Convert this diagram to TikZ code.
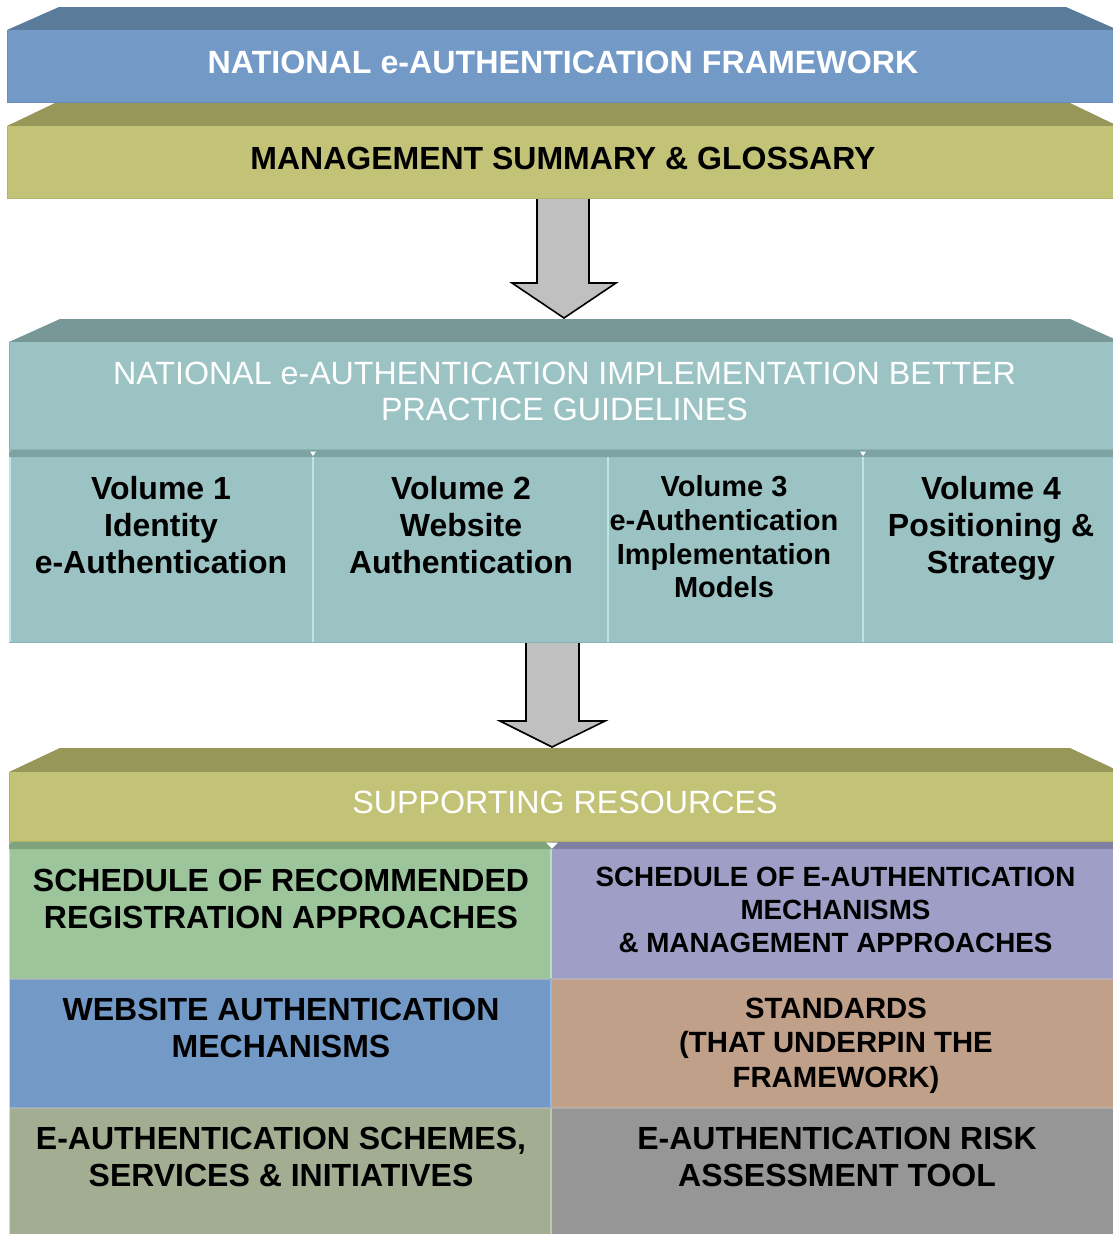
\documentclass[tikz,border=0pt]{standalone}
\usepackage{fontspec}
\setmainfont{Liberation Sans}
\usetikzlibrary{calc}
\definecolor{bluetop}{HTML}{5B7B9B}
\definecolor{bluefront}{HTML}{7399C6}
\definecolor{blueedge}{HTML}{6A8EB9}
\definecolor{olivetop}{HTML}{97975A}
\definecolor{olivefront}{HTML}{C2C376}
\definecolor{oliveedge}{HTML}{B3B46A}
\definecolor{tealtop}{HTML}{789898}
\definecolor{tealfront}{HTML}{9CC3C4}
\definecolor{tealstrip}{HTML}{7EA3A3}
\definecolor{tealsep}{HTML}{BCE6E6}
\definecolor{tealedge}{HTML}{8DB3B4}
\definecolor{greencell}{HTML}{9CC59B}
\definecolor{greenstrip}{HTML}{7EA37D}
\definecolor{greenedge}{HTML}{B9E0B6}
\definecolor{purplecell}{HTML}{9E9EC6}
\definecolor{purplestrip}{HTML}{7F7FA1}
\definecolor{bluecell}{HTML}{7399C6}
\definecolor{bluecelledge}{HTML}{8DB8E8}
\definecolor{tancell}{HTML}{C1A08A}
\definecolor{sagecell}{HTML}{A3AD92}
\definecolor{sageedge}{HTML}{BFC8AE}
\definecolor{graycell}{HTML}{969696}
\definecolor{arrowfill}{HTML}{C0C0C0}
\tikzset{
  bigbold/.style={inner sep=0pt, align=center, font=\bfseries\fontsize{32}{37}\selectfont},
  bigreg/.style={inner sep=0pt, align=center, font=\fontsize{32.2}{36}\selectfont},
  blockarrow/.style={draw=black, line width=1.6pt, fill=arrowfill, line join=miter},
  sepline/.style={line width=2pt},
}
\begin{document}
\begin{tikzpicture}[x=1pt,y=-1pt]
\useasboundingbox (0,0) rectangle (1113,1234);
\clip (0,0) rectangle (1113,1234);
\fill[white] (0,0) rectangle (1113,1234);

% ---------- arrows (drawn first, bands cover their tops) ----------
\coordinate (a1top) at (563,195);
\coordinate (a1tip) at (564,318);
\draw[blockarrow] ($(a1top)+(-26,0)$) -- ($(a1top)+(26,0)$) -- ($(a1top)+(26,88)$)
  -- ($(a1top)+(53,88)$) -- (a1tip) -- ($(a1top)+(-51,88)$) -- ($(a1top)+(-26,88)$) -- cycle;
\coordinate (a2top) at (552.5,640);
\coordinate (a2tip) at (552,747);
\draw[blockarrow] ($(a2top)+(-26.5,0)$) -- ($(a2top)+(26.5,0)$) -- ($(a2top)+(26.5,81)$)
  -- ($(a2top)+(52.5,81)$) -- (a2tip) -- ($(a2top)+(-52.5,81)$) -- ($(a2top)+(-26.5,81)$) -- cycle;

% ---------- band 1 ----------
\fill[bluetop] (7,30) -- (59,7) -- (1066,7) -- (1118,30) -- cycle;
\fill[bluefront] (7,30) rectangle (1118,103);
\draw[blueedge, line width=1.5pt] (7.7,30) -- (7.7,102.3) -- (1118,102.3);
\node[inner sep=0pt, font=\bfseries\fontsize{32.2}{37}\selectfont, text=white] (t1) at (563,62) {NATIONAL e-AUTHENTICATION FRAMEWORK};

% ---------- band 2 ----------
\fill[olivetop] (7,126) -- (55,103) -- (1070,103) -- (1118,126) -- cycle;
\fill[olivefront] (7,126) rectangle (1118,199);
\draw[oliveedge, line width=1.5pt] (7.7,126) -- (7.7,198.3) -- (1118,198.3);
\node[bigbold, text=black] (t2) at (563,158) {MANAGEMENT SUMMARY \& GLOSSARY};

% ---------- band 3 ----------
\fill[tealtop] (9,342) -- (60,319) -- (1070,319) -- (1121,342) -- cycle;
\fill[tealfront] (9,342) rectangle (1121,450);
\draw[tealedge, line width=1.5pt] (9.7,342) -- (9.7,449.3) -- (1121,449.3);
\node[bigreg, text=white, anchor=north] (t3) at (564.5,361.5)
  {NATIONAL e-AUTHENTICATION IMPLEMENTATION BETTER\\PRACTICE GUIDELINES};

% volume cells
\fill[tealfront] (9,450) rectangle (1121,643);
\fill[tealstrip] (12,450) -- (1121,450) -- (1121,457) -- (9,457) -- (9,453) -- cycle;
\draw[tealsep, sepline] (10,457) -- (10,642);
\draw[tealsep, sepline] (313,457) -- (313,642);
\draw[tealsep, sepline] (608,457) -- (608,642);
\draw[tealsep, sepline] (863,457) -- (863,642);
\draw[tealedge, line width=1.2pt] (9,642.4) -- (1121,642.4);
\fill[white] (310,451.5) -- (316,451.5) -- (313,456) -- cycle;
\fill[white] (860,451.5) -- (866,451.5) -- (863,456) -- cycle;

\node[bigbold, anchor=north] (v1) at (161,476.5) {Volume 1\\Identity\\e-Authentication};
\node[bigbold, anchor=north] (v2) at (461,476.5) {Volume 2\\Website\\Authentication};
\node[inner sep=0pt, align=center, font=\bfseries\fontsize{29}{33.7}\selectfont, anchor=north]
  (v3) at (724,475.6) {Volume 3\\e-Authentication\\Implementation\\Models};
\node[bigbold, anchor=north] (v4) at (991,476.5) {Volume 4\\Positioning \&\\Strategy};

% ---------- band 4 ----------
\fill[olivetop] (9,772) -- (60,748) -- (1070,748) -- (1121,772) -- cycle;
\fill[olivefront] (9,772) rectangle (1121,842);
\draw[oliveedge, line width=1.5pt] (9.7,772) -- (9.7,841.3) -- (1121,841.3);
\node[bigreg, text=white] (t4) at (565,802) {SUPPORTING RESOURCES};

% ---------- grid ----------
% row 1
\fill[greencell] (9,842) rectangle (552,979);
\fill[greenstrip] (12,842) -- (552,842) -- (552,849) -- (9,849) -- (9,845) -- cycle;
\draw[greenedge, line width=2pt] (551,849) -- (551,978);
\fill[purplecell] (552,842) rectangle (1121,979);
\fill[purplestrip] (552,842) rectangle (1121,849);
% row 2
\fill[bluecell] (9,979) rectangle (552,1108);
\draw[bluecelledge, line width=2pt] (551,980) -- (551,1107);
\fill[tancell] (552,979) rectangle (1121,1108);
% row 3
\fill[sagecell] (9,1108) rectangle (552,1240);
\draw[sageedge, line width=2pt] (551,1109) -- (551,1240);
\fill[graycell] (552,1108) rectangle (1121,1240);
% row separations
\draw[black!25, opacity=0.5, line width=1.2pt] (9,979) -- (1121,979);
\draw[black!25, opacity=0.5, line width=1.2pt] (9,1108) -- (1121,1108);
\draw[white!85!black, line width=1.2pt] (9.6,849) -- (9.6,1234);
\fill[white] (546,842.5) -- (558,842.5) -- (552,848.5) -- cycle;

\node[bigbold, anchor=north] (g1) at (281,868.5) {SCHEDULE OF RECOMMENDED\\REGISTRATION APPROACHES};
\node[inner sep=0pt, align=center, font=\bfseries\fontsize{27.8}{33}\selectfont, anchor=north]
  (g2) at (835.5,867) {SCHEDULE OF E-AUTHENTICATION\\MECHANISMS\\\& MANAGEMENT APPROACHES};
\node[bigbold, anchor=north] (g3) at (281,997.5) {WEBSITE AUTHENTICATION\\MECHANISMS};
\node[inner sep=0pt, align=center, font=\bfseries\fontsize{29.3}{34.5}\selectfont, anchor=north]
  (g4) at (836,997.6) {STANDARDS\\(THAT UNDERPIN THE\\FRAMEWORK)};
\node[bigbold, anchor=north] (g5) at (281,1126.5) {E-AUTHENTICATION SCHEMES,\\SERVICES \& INITIATIVES};
\node[bigbold, anchor=north] (g6) at (837,1126.5) {E-AUTHENTICATION RISK\\ASSESSMENT TOOL};
\end{tikzpicture}
\end{document}
